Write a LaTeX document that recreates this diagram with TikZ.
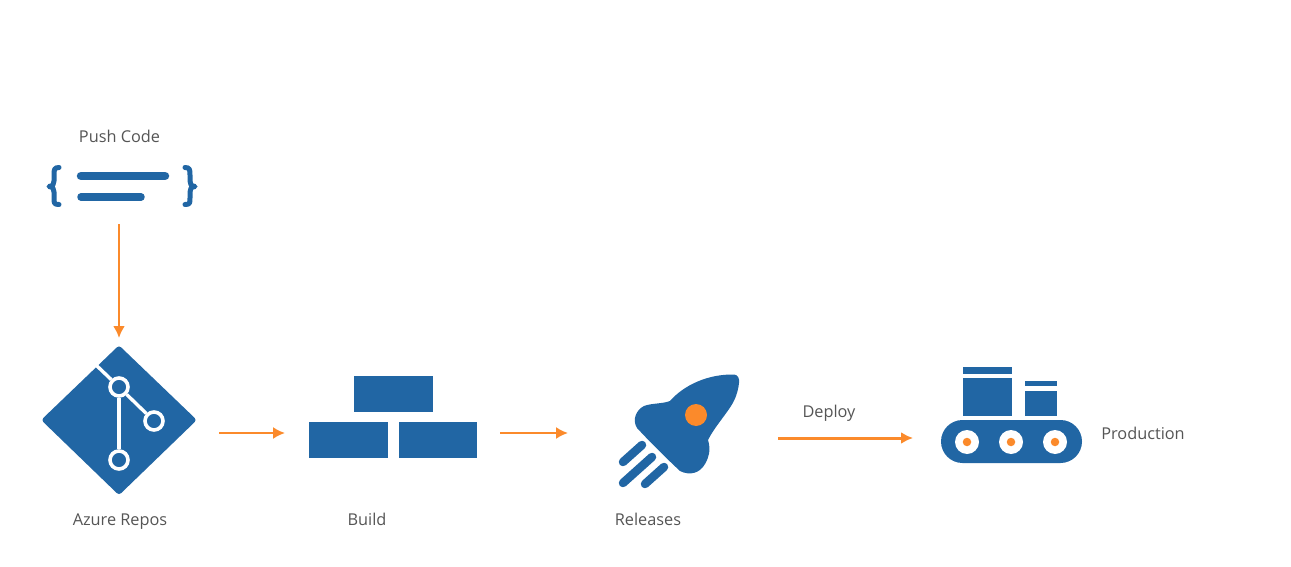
\documentclass[tikz,border=0pt]{standalone}
\usepackage{fontspec}
\setmainfont{Open Sans}
\usetikzlibrary{arrows.meta,shapes.geometric}
\definecolor{iconblue}{HTML}{2166A4}
\definecolor{flow}{HTML}{FB8A2B}
\definecolor{labelgray}{HTML}{555555}
\tikzset{
  lbl/.style={text=labelgray,font=\fontsize{16.3}{19}\selectfont,inner sep=0pt,anchor=base},
  anchorbox/.style={inner sep=0pt,outer sep=0pt,draw=none},
  flowarrow/.style={draw=flow,line width=2.4pt,-{Latex[length=12pt,width=12pt]}},
  blueblock/.style={fill=iconblue,draw=none},
  gitline/.style={draw=white,line width=3.4pt},
  gitnode/.style={circle,draw=white,line width=3.6pt,fill=iconblue,minimum size=18pt,inner sep=0pt},
  bar/.style={draw=iconblue,line cap=round},
  brace/.style={draw=iconblue,line width=5pt,line cap=round,line join=round},
}
\begin{document}
\begin{tikzpicture}[x=1pt,y=-1pt]
\useasboundingbox[fill=white] (0,0) rectangle (1291,567);
% Labels
\node[lbl] (lpush) at (119.5,143) {Push Code};
\node[lbl] (lrepos) at (120,525) {Azure Repos};
\node[lbl] (lbuild) at (367,525) {Build};
\node[lbl] (lrel) at (648,525) {Releases};
\node[lbl] (ldeploy) at (829,417) {Deploy};
\node[lbl] (lprod) at (1143,439) {Production};
% Code icon
\draw[bar,line width=8.5pt] (81,176) -- (165,176);
\draw[bar,line width=7.5pt] (81,197) -- (141,197);
\draw[brace] (59,167.5) .. controls (54,167.5) and (54,170) .. (54,175) -- (54,181) .. controls (54,184) and (53,186) .. (49,186.5) .. controls (53,187) and (54,189) .. (54,192) -- (54,198) .. controls (54,203) and (54,204.5) .. (59,204.5);
\draw[brace] (185,167.5) .. controls (190,167.5) and (190,170) .. (190,175) -- (190,181) .. controls (190,184) and (191,186) .. (195,186.5) .. controls (191,187) and (190,189) .. (190,192) -- (190,198) .. controls (190,203) and (190,204.5) .. (185,204.5);
\node[anchorbox,minimum width=10pt,minimum height=92pt] (code) at (119,178) {};
% Repos icon
\draw[fill=iconblue,draw=iconblue,line width=6pt,line join=round] (119,349.5) -- (192.5,420) -- (119,491) -- (45.5,420) -- cycle;
\node[anchorbox,minimum width=200pt,minimum height=164pt] (repos) at (119,420) {};
\node[gitnode] (g1) at (119,387) {};
\node[gitnode] (g2) at (154,421) {};
\node[gitnode] (g3) at (119,460) {};
\coordinate (gtop) at (96.5,365.5);
\draw[gitline] (gtop) -- (g1);
\draw[gitline] (g1) -- (g2);
\draw[gitline] (g1) -- (g3);
% Build icon
\fill[blueblock] (354,376) rectangle (433,412);
\fill[blueblock] (309,422) rectangle (388,458);
\fill[blueblock] (399,422) rectangle (477,458);
\node[anchorbox,minimum width=215pt,minimum height=20pt] (build) at (392.5,433) {};
% Rocket icon
\fill[iconblue] (734,374.5) .. controls (738,375) and (739.5,378) .. (739,383)
  .. controls (738,392) and (735,400) .. (731,406)
  .. controls (724,417) and (714,428) .. (708,440)
  .. controls (711,450) and (709,457) .. (705,464)
  .. controls (700,473) and (690,476) .. (680,471)
  .. controls (665,457) and (650,442) .. (637,428)
  .. controls (632,420) and (636,410) .. (644,406)
  .. controls (652,403) and (662,404) .. (670,401)
  .. controls (684,385) and (708,374) .. (734,374.5) -- cycle;
\node[circle,fill=flow,minimum size=22pt,inner sep=0pt] (flame) at (696,415) {};
\draw[bar,line width=8.5pt] (623,462) -- (642,445);
\draw[bar,line width=8.5pt] (623,483) -- (652,457);
\draw[bar,line width=8.5pt] (645,484) -- (664,467);
\node[anchorbox,minimum width=210pt,minimum height=20pt] (rocket) at (673,433) {};
\node[anchorbox,minimum width=270pt,minimum height=20pt] (rocket2) at (643,438) {};
% Production icon
\fill[blueblock] (963,367) rectangle (1012,374);
\fill[blueblock] (963,378) rectangle (1012,416);
\fill[blueblock] (1025,381) rectangle (1057,386);
\fill[blueblock] (1025,391) rectangle (1057,416);
\fill[blueblock,rounded corners=21.5pt] (941,420) rectangle (1082,463);
\foreach \n/\cx in {a/967,b/1011,c/1055}{
  \node[circle,fill=white,minimum size=24pt,inner sep=0pt] (roll\n) at (\cx,442) {};
  \node[circle,fill=flow,minimum size=8.5pt,inner sep=0pt] at (roll\n) {};
}
\node[anchorbox,minimum width=2pt,minimum height=20pt] (prod) at (914,438) {};
% Connectors
\draw[flowarrow] (code.south) -- (code.south |- repos.north);
\draw[flowarrow,line width=2pt] (repos.east |- build.west) -- (build.west);
\draw[flowarrow,line width=2pt] (build.east) -- (rocket.west |- build.east);
\draw[flowarrow,line width=3pt] (rocket2.east) -- (prod.west);
\end{tikzpicture}
\end{document}
